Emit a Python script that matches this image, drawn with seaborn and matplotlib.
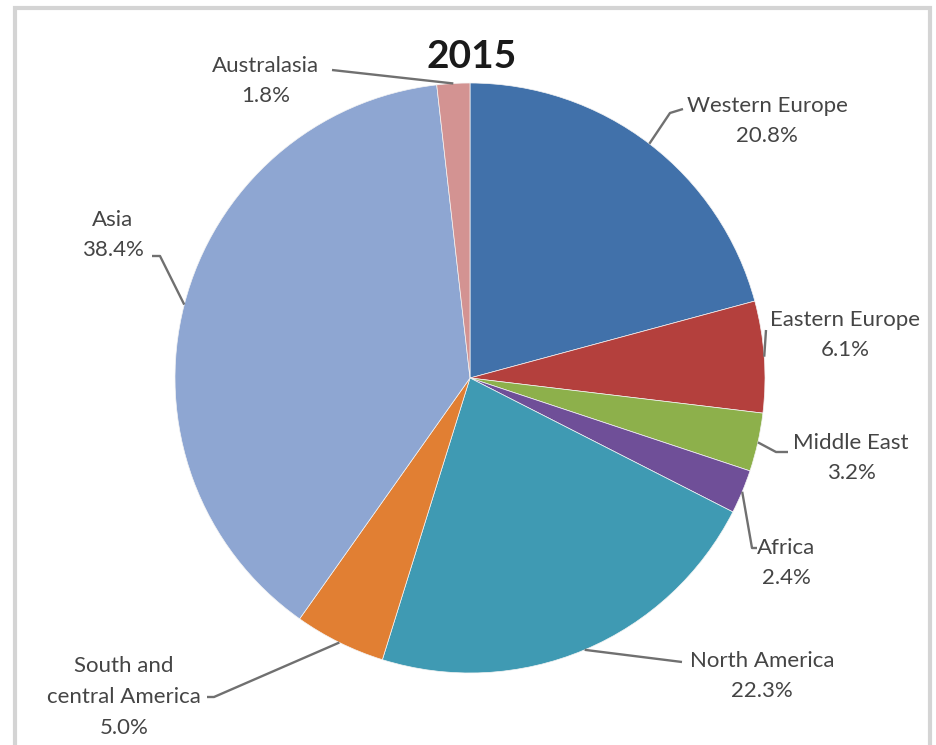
import matplotlib
matplotlib.use("Agg")
import matplotlib.pyplot as plt
import seaborn as sns
import numpy as np

# Regional shares, 2015 (percent), clockwise from 12 o'clock
regions = ["Western Europe", "Eastern Europe", "Middle East", "Africa",
           "North America", "South and\ncentral America", "Asia", "Australasia"]
shares = [20.8, 6.1, 3.2, 2.4, 22.3, 5.0, 38.4, 1.8]
title = "2015"

sns.set_theme(style="white")
plt.rcParams["font.family"] = ["Lato", "DejaVu Sans"]

colors = ["#4171AA", "#B4403D", "#8DB04B", "#6F4F98",
          "#3F9AB3", "#E17F33", "#8EA6D2", "#D39392"]

W, H = 936, 745
fig = plt.figure(figsize=(W / 100, H / 100), dpi=100)
ax = fig.add_axes([0, 0, 1, 1])


def P(x, y):
    """Pixel position (top-left origin) to data coordinates."""
    return x, H - y


cx, cy = P(470, 378)
radius = 295
wedges, _ = ax.pie(shares, colors=colors, startangle=90, counterclock=False,
                   center=(cx, cy), radius=radius, frame=True,
                   wedgeprops=dict(linewidth=0.5, edgecolor="#f4f4f4"))
ax.set_xlim(0, W)
ax.set_ylim(0, H)
ax.set_aspect("equal")
ax.axis("off")

# label placement: text centre, then leader-line waypoints ending at the text
label_pos = [(767, 121), (845, 335), (851, 458), (786, 563),
             (762, 676), (124, 697), (113, 235), (266, 81)]
leader_pts = [[(670, 113), (683, 109)],
              [(766, 330)],
              [(776, 452), (788, 452)],
              [(752, 548), (757, 548)],
              [(682, 662)],
              [(214, 697), (207, 697)],
              [(160, 256), (152, 256)],
              [(332, 70)]]

txt_color = "#454545"
for w, name, val, (tx, ty), pts in zip(wedges, regions, shares, label_pos, leader_pts):
    mid = np.deg2rad((w.theta1 + w.theta2) / 2)
    ax_ = cx + radius * np.cos(mid)
    ay_ = cy + radius * np.sin(mid)
    xs = [ax_] + [P(*p)[0] for p in pts]
    ys = [ay_] + [P(*p)[1] for p in pts]
    ax.plot(xs, ys, color="#707070", lw=1.7, solid_capstyle="butt")
    ax.text(*P(tx, ty), f"{name}\n{val:.1f}%", ha="center", va="center",
            fontsize=16, color=txt_color, linespacing=1.68)

ax.text(*P(472, 57), title, ha="center", va="center", fontsize=28,
        fontweight="bold", color="#1a1a1a")

# chart-area border
ax.plot([15, 15, 930, 930], [0, H - 8, H - 8, 0], color="#d4d4d4", lw=3,
        solid_joinstyle="miter")

fig.savefig("out.png", dpi=100, facecolor="white")
